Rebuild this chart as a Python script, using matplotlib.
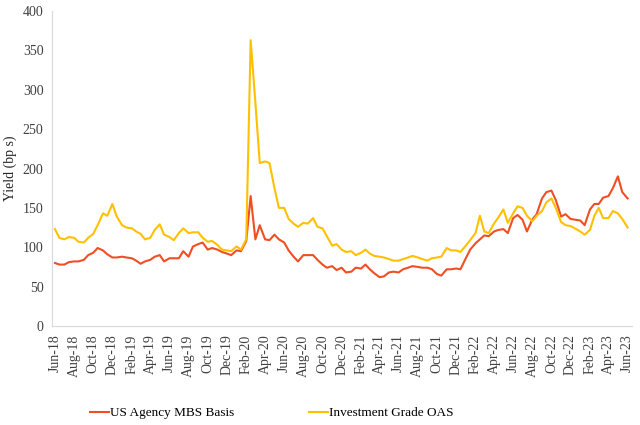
import pandas as pd
import matplotlib.pyplot as plt
import matplotlib.dates as mdates

plt.rcParams['font.family'] = ['Liberation Serif', 'DejaVu Serif']

# semi-monthly observations, Jun-2018 .. Jun-2023
dates = pd.date_range('2018-06-01', periods=121, freq='SMS')

mbs_basis = [
    80, 78, 78, 81, 82, 82, 84, 90, 93, 99, 96, 91, 87, 87, 88, 87,
    86, 83, 79, 82, 84, 88, 90, 82, 86, 86, 86, 95, 88, 101, 104, 106,
    97, 99, 97, 94, 92, 90, 96, 95, 108, 165, 110, 128, 110, 109, 116, 110,
    106, 96, 88, 82, 90, 90, 90, 84, 78, 74, 76, 71, 74, 68, 69, 74,
    73, 78, 72, 67, 62, 63, 68, 69, 68, 72, 74, 76, 75, 74, 74, 72,
    66, 64, 72, 72, 73, 72, 86, 97, 105, 110, 115, 114, 120, 122, 123, 118,
    137, 141, 135, 120, 135, 142, 162, 170, 172, 160, 139, 142, 136, 135, 134, 128,
    148, 155, 155, 163, 165, 175, 190, 170, 162,
]

ig_oas = [
    123, 112, 110, 113, 112, 107, 106, 112, 117, 128, 143, 140, 155, 139, 128, 125,
    124, 120, 117, 110, 112, 122, 129, 116, 113, 109, 118, 124, 118, 119, 119, 112,
    107, 108, 103, 97, 96, 95, 101, 97, 110, 363, 284, 207, 209, 207, 175, 150,
    150, 136, 130, 126, 131, 130, 137, 126, 124, 114, 102, 104, 97, 94, 95, 90,
    93, 97, 92, 89, 88, 87, 85, 83, 83, 85, 87, 89, 87, 85, 83, 86,
    87, 88, 99, 96, 96, 94, 102, 109, 118, 140, 120, 118, 130, 138, 148, 131,
    143, 152, 150, 140, 133, 140, 146, 157, 162, 150, 132, 128, 127, 124, 120, 116,
    122, 140, 150, 137, 137, 146, 143, 136, 125,
]

fig = plt.figure(figsize=(6.4, 4.25), dpi=100)
ax = fig.add_axes([0.081, 0.233, 0.906, 0.741])

ax.plot(dates, mbs_basis, color='#F04E23', lw=1.5, label='US Agency MBS Basis')
ax.plot(dates, ig_oas, color='#FFC000', lw=1.5, label='Investment Grade OAS')

ax.set_ylim(0, 400)
ax.set_yticks(range(0, 401, 50))
ax.set_xlim(pd.Timestamp('2018-05-22'), pd.Timestamp('2023-06-14'))
ax.xaxis.set_major_locator(mdates.MonthLocator(bymonth=[2, 4, 6, 8, 10, 12]))
ax.xaxis.set_major_formatter(mdates.DateFormatter('%b-%y'))
plt.setp(ax.get_xticklabels(), rotation=90)

ax.tick_params(length=0, labelsize=10, colors='#404040', pad=6)
ax.set_ylabel('Yield (bp s)', fontsize=10, color='#222222', labelpad=4)

for s in ['top', 'right']:
    ax.spines[s].set_visible(False)
for s in ['left', 'bottom']:
    ax.spines[s].set_color('#d9d9d9')

fig.legend(loc='center', bbox_to_anchor=(0.425, 0.028), ncol=2, frameon=False,
           fontsize=9.5, handlelength=1.4, handletextpad=0.1, columnspacing=5.7)

plt.savefig('out.png', dpi=100)
